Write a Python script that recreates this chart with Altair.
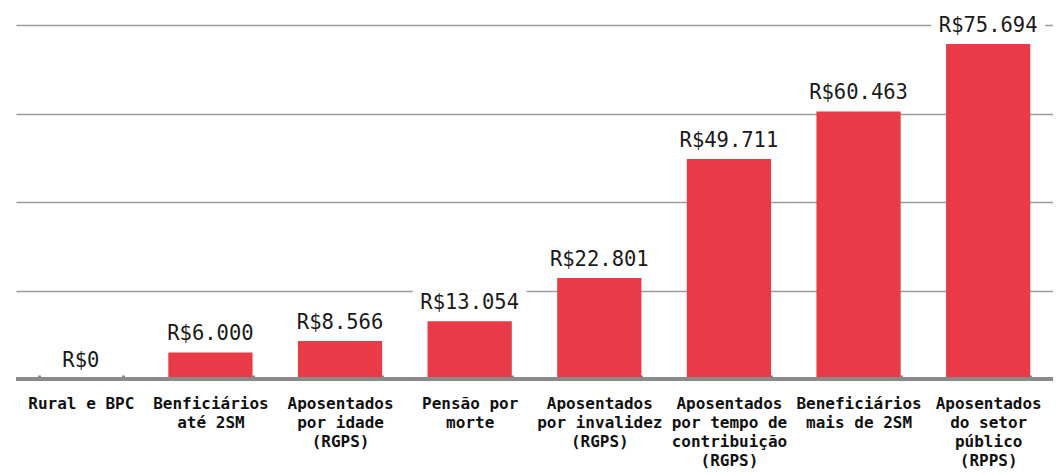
import altair as alt
import pandas as pd

categories = [
    "Rural e BPC",
    "Benficiários|até 2SM",
    "Aposentados|por idade|(RGPS)",
    "Pensão por|morte",
    "Aposentados|por invalidez|(RGPS)",
    "Aposentados|por tempo de|contribuição|(RGPS)",
    "Beneficiários|mais de 2SM",
    "Aposentados|do setor|público|(RPPS)",
]
values = [0, 6000, 8566, 13054, 22801, 49711, 60463, 75694]
labels = ["R$" + f"{v:,}".replace(",", ".") for v in values]

df = pd.DataFrame({"cat": categories, "value": values, "label": labels})

RED = "#E93B47"
GRID = "#9b9b9b"
BASE = "#8a8a8a"
MONO = "DejaVu Sans Mono"

x = alt.X(
    "cat:N",
    sort=categories,
    title=None,
    scale=alt.Scale(paddingInner=0.35, paddingOuter=0.175),
    axis=alt.Axis(
        labelExpr="split(datum.label, '|')",
        labelAngle=0,
        labelFont=MONO,
        labelFontWeight="bold",
        labelFontSize=16,
        labelColor="#111111",
        labelLineHeight=19,
        labelPadding=16,
        labelBaseline="top",
        tickBand="extent",
        tickSize=4,
        tickWidth=3,
        tickColor=BASE,
        domain=False,
        offset=-4,
        labelLimit=300,
    ),
)
y = alt.Y(
    "value:Q",
    title=None,
    scale=alt.Scale(domain=[0, 80000], nice=False),
    axis=alt.Axis(
        values=[20000, 40000, 60000, 80000],
        labels=False,
        ticks=False,
        domain=False,
        grid=True,
        gridColor=GRID,
        gridWidth=1.6,
    ),
)

base = alt.Chart(df)

bars = base.mark_bar(color=RED).encode(x=x, y=y)

baseline = base.mark_rule(color=BASE, strokeWidth=3).encode(y=alt.datum(0))

bg = base.mark_rect(color="white", width=114, height=26, yOffset=-18).encode(
    x=x, y=y
)

text = base.mark_text(font=MONO, fontSize=20.5, dy=-18, color="#1a1a1a").encode(
    x=x, y=y, text="label:N"
)

chart = (
    alt.layer(bars, baseline, bg, text)
    .properties(
        width=1037,
        height=354,
        padding={"left": 8, "top": 17, "right": 0, "bottom": 96},
        autosize=alt.AutoSizeParams(type="none"),
    )
    .configure_view(stroke=None)
)

chart.save("out.html", embed_options={"renderer": "svg", "actions": False})
